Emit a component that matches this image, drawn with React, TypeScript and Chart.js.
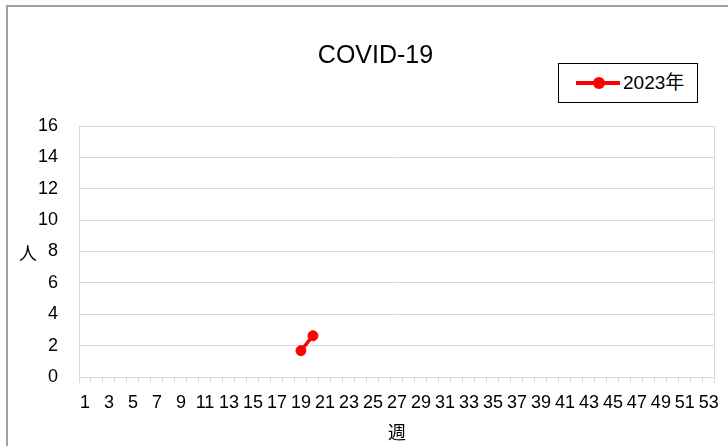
import React, { useEffect, useRef } from "react";
import { Chart, registerables } from "chart.js";

Chart.register(...registerables);

const chartTitle = "COVID-19";
const seriesName = "2023年";
const xAxisTitle = "週";
const yAxisTitle = "人";

const weeks: string[] = [
  "1", "2", "3", "4", "5", "6", "7", "8", "9", "10",
  "11", "12", "13", "14", "15", "16", "17", "18", "19", "20",
  "21", "22", "23", "24", "25", "26", "27", "28", "29", "30",
  "31", "32", "33", "34", "35", "36", "37", "38", "39", "40",
  "41", "42", "43", "44", "45", "46", "47", "48", "49", "50",
  "51", "52", "53",
];

const values2023: (number | null)[] = [
  null, null, null, null, null, null, null, null, null, null,
  null, null, null, null, null, null, null, null, 1.68, 2.63,
  null, null, null, null, null, null, null, null, null, null,
  null, null, null, null, null, null, null, null, null, null,
  null, null, null, null, null, null, null, null, null, null,
  null, null, null,
];

const yMin = 0;
const yMax = 16;
const yStep = 2;

const RED = "#ff0000";
const GRID = "#d9d9d9";
const LATIN = "'Liberation Sans', 'Noto Sans CJK JP', sans-serif";
const CJK = "'Noto Sans CJK JP', 'Liberation Sans', sans-serif";

const plotBorder = {
  id: "plotBorder",
  beforeDatasetsDraw(chart: any) {
    const { ctx, chartArea: a } = chart;
    ctx.save();
    ctx.strokeStyle = GRID;
    ctx.lineWidth = 1;
    const x = Math.round(a.right) - 0.5;
    ctx.beginPath();
    ctx.moveTo(x, a.top);
    ctx.lineTo(x, a.bottom);
    ctx.stroke();
    ctx.restore();
  },
};

export default function App() {
  const canvasRef = useRef<HTMLCanvasElement | null>(null);

  useEffect(() => {
    if (!canvasRef.current) return;
    const chart = new Chart(canvasRef.current, {
      type: "line",
      data: {
        labels: weeks,
        datasets: [
          {
            label: seriesName,
            data: values2023,
            borderColor: RED,
            backgroundColor: RED,
            borderWidth: 3.5,
            pointRadius: 5,
            pointBorderWidth: 1,
            pointBackgroundColor: RED,
            pointBorderColor: RED,
            spanGaps: false,
            tension: 0,
          },
        ],
      },
      plugins: [plotBorder],
      options: {
        responsive: false,
        animation: false,
        layout: { padding: { top: 126, right: 13, left: 0, bottom: 0 } },
        plugins: {
          legend: { display: false },
          title: { display: false },
          tooltip: { enabled: false },
        },
        scales: {
          x: {
            type: "category",
            offset: true,
            grid: {
              offset: true,
              drawOnChartArea: false,
              drawTicks: true,
              tickLength: 6,
              color: GRID,
            },
            border: { display: true, color: GRID },
            ticks: {
              autoSkip: false,
              maxRotation: 0,
              minRotation: 0,
              padding: 9,
              color: "#000",
              font: { family: LATIN, size: 18 },
              callback: (_v: any, i: number) => (i % 2 === 0 ? weeks[i] : ""),
            },
            title: {
              display: true,
              text: xAxisTitle,
              color: "#000",
              font: { family: CJK, size: 18 },
              padding: { top: 0, bottom: 3 },
            },
            afterFit: (scale: any) => {
              scale.height = 69;
            },
          },
          y: {
            min: yMin,
            max: yMax,
            grid: { drawTicks: false, color: GRID },
            border: { display: true, color: GRID },
            ticks: {
              stepSize: yStep,
              padding: 21,
              color: "#000",
              font: { family: LATIN, size: 18 },
            },
            afterFit: (scale: any) => {
              scale.width = 79;
            },
          },
        },
      },
    });
    return () => chart.destroy();
  }, []);

  return (
    <div
      style={{
        position: "fixed",
        left: 0,
        top: 0,
        width: 728,
        height: 446,
        overflow: "hidden",
        background: "#fff",
      }}
    >
      <div
        style={{
          position: "absolute",
          left: 6,
          top: 5,
          width: 800,
          height: 500,
          border: "2px solid #a0a0a0",
        }}
      />
      <canvas
        ref={canvasRef}
        width={728}
        height={446}
        style={{ position: "absolute", left: 0, top: 0, width: 728, height: 446, display: "block" }}
      />
      <div
        style={{
          position: "absolute",
          left: 0,
          top: 42,
          width: 751,
          textAlign: "center",
          fontFamily: LATIN,
          fontSize: 25,
          lineHeight: "25px",
          color: "#000",
        }}
      >
        {chartTitle}
      </div>
      <div
        style={{
          position: "absolute",
          left: 19,
          top: 243,
          fontFamily: CJK,
          fontSize: 18,
          lineHeight: "18px",
          color: "#000",
        }}
      >
        {yAxisTitle}
      </div>
      <div
        style={{
          position: "absolute",
          left: 558,
          top: 63,
          width: 140,
          height: 40,
          boxSizing: "border-box",
          border: "1.5px solid #000",
          background: "#fff",
        }}
      >
        <div
          style={{
            position: "absolute",
            left: 17,
            top: 17,
            width: 44,
            height: 4,
            background: RED,
          }}
        />
        <div
          style={{
            position: "absolute",
            left: 33.5,
            top: 13,
            width: 12,
            height: 12,
            borderRadius: "50%",
            background: RED,
          }}
        />
        <div
          style={{
            position: "absolute",
            left: 64,
            top: 8,
            fontFamily: LATIN,
            fontSize: 19,
            lineHeight: "22px",
            color: "#000",
            whiteSpace: "nowrap",
          }}
        >
          {seriesName}
        </div>
      </div>
    </div>
  );
}
